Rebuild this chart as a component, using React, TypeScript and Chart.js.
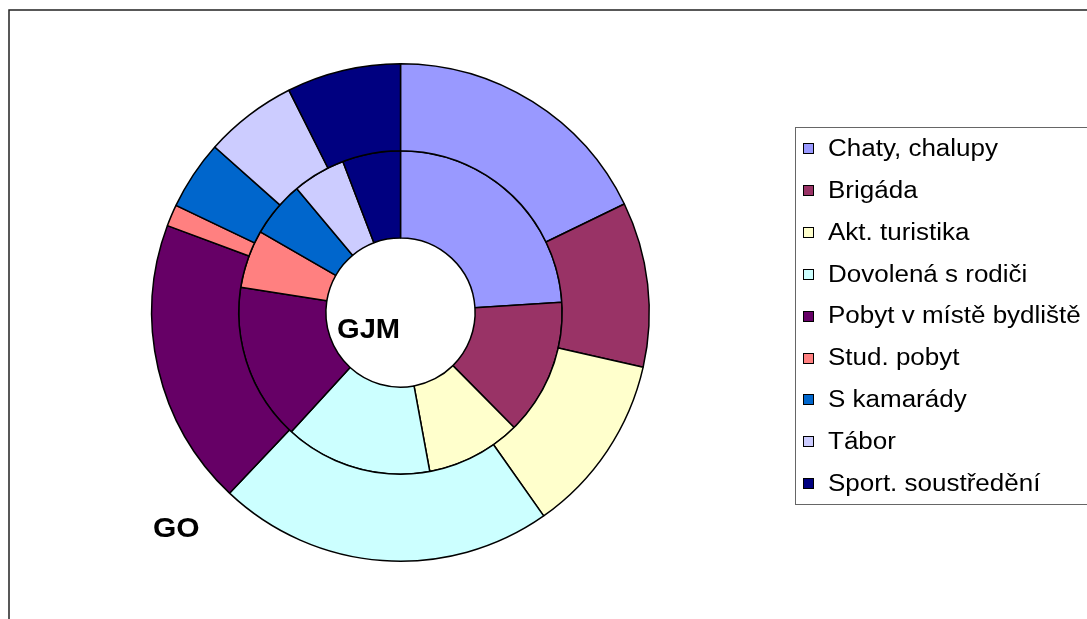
import React, { useEffect, useRef } from "react";
import { Chart, registerables } from "chart.js";

Chart.register(...registerables);

const categories = [
  "Chaty, chalupy",
  "Brigáda",
  "Akt. turistika",
  "Dovolená s rodiči",
  "Pobyt v místě bydliště",
  "Stud. pobyt",
  "S kamarády",
  "Tábor",
  "Sport. soustředění",
];
const goValues = [17.8, 10.7, 11.7, 21.8, 18.6, 1.4, 4.5, 6.0, 7.4];
const gjmValues = [24.0, 13.6, 9.5, 14.7, 15.7, 5.8, 5.6, 5.3, 5.8];
const colors = [
  "#9999FF",
  "#993366",
  "#FFFFCC",
  "#CCFFFF",
  "#660066",
  "#FF8080",
  "#0066CC",
  "#CCCCFF",
  "#000080",
];
const seriesNames = ["GO", "GJM"];

const FONT = "'Liberation Sans', Arial, sans-serif";

function stretchedText(ctx: any, text: string, x: number, y: number, sx: number) {
  ctx.save();
  ctx.translate(x, y);
  ctx.scale(sx, 1);
  ctx.fillText(text, 0, 0);
  ctx.restore();
}

const overlayPlugin = {
  id: "overlay",
  beforeDraw(chart: any) {
    const ctx = chart.ctx;
    ctx.save();
    ctx.fillStyle = "#ffffff";
    ctx.fillRect(0, 0, chart.width, chart.height);
    ctx.strokeStyle = "#222";
    ctx.lineWidth = 1.5;
    ctx.strokeRect(9, 10, chart.width + 20, chart.height + 20);
    ctx.restore();
  },
  afterDraw(chart: any) {
    const ctx = chart.ctx;
    ctx.save();
    // series labels
    ctx.fillStyle = "#000";
    ctx.font = `bold 28px ${FONT}`;
    ctx.textBaseline = "alphabetic";
    ctx.textAlign = "left";
    stretchedText(ctx, seriesNames[1], 337, 338, 1.04);
    stretchedText(ctx, seriesNames[0], 153, 537, 1.07);

    // legend
    ctx.strokeStyle = "#666";
    ctx.lineWidth = 1;
    ctx.strokeRect(795.5, 127.5, 400, 377);
    ctx.font = `23px ${FONT}`;
    ctx.textAlign = "left";
    ctx.textBaseline = "middle";
    const y0 = 148.5;
    const step = 41.9;
    categories.forEach((c, i) => {
      const y = y0 + i * step;
      ctx.fillStyle = colors[i];
      ctx.fillRect(803, Math.round(y - 5.5), 11, 11);
      ctx.strokeStyle = "#000";
      ctx.strokeRect(803.5, Math.round(y - 5.5) + 0.5, 10, 10);
      ctx.fillStyle = "#000";
      stretchedText(ctx, c, 828, y + 1, 1.13);
    });
    ctx.restore();
  },
};

export default function App() {
  const ref = useRef<HTMLCanvasElement | null>(null);
  useEffect(() => {
    if (!ref.current) return;
    const chart = new Chart(ref.current, {
      type: "doughnut",
      data: {
        labels: categories,
        datasets: [
          {
            label: seriesNames[0],
            data: goValues,
            backgroundColor: colors,
            borderColor: "#000",
            borderWidth: 1.5,
          },
          {
            label: seriesNames[1],
            data: gjmValues,
            backgroundColor: colors,
            borderColor: "#000",
            borderWidth: 1.5,
          },
        ],
      },
      options: {
        responsive: false,
        maintainAspectRatio: false,
        devicePixelRatio: 1,
        animation: false,
        cutout: "30%",
        layout: { padding: { left: 151, right: 437, top: 63, bottom: 57 } },
        plugins: {
          legend: { display: false },
          tooltip: { enabled: false },
          title: { display: false },
        },
      },
      plugins: [overlayPlugin],
    } as any);
    return () => chart.destroy();
  }, []);
  return (
    <div style={{ position: "fixed", left: 0, top: 0, width: 1087, height: 619, background: "#fff" }}>
      <canvas ref={ref} width={1087} height={619} style={{ width: 1087, height: 619, display: "block" }} />
    </div>
  );
}
